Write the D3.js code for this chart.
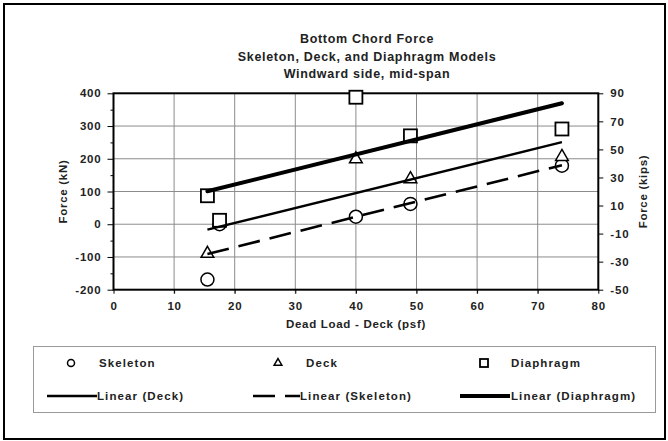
<!DOCTYPE html>
<html>
<head>
  <meta charset="utf-8">
  <title>Bottom Chord Force</title>
  <style>
    body { margin: 0; background: #fff; }
    text { font-family: "Liberation Sans", Arial, sans-serif; font-weight: bold; fill: #222; }
    .grid line { stroke: #8c8c8c; stroke-width: 1px; }
  </style>
</head>
<body>
  <svg id="chart"></svg>

  <script src="https://d3js.org/d3.v7.min.js"></script>
  <script>
    // chart values
    var titleLines = ["Bottom Chord Force", "Skeleton, Deck, and Diaphragm Models", "Windward side, mid-span"];
    var xTicks = [0, 10, 20, 30, 40, 50, 60, 70, 80];
    var yTicks = [-200, -100, 0, 100, 200, 300, 400];
    var yMinorTicks = [-150, -50, 50, 150, 250, 350];
    var yRightTicks = [-50, -30, -10, 10, 30, 50, 70, 90];

    // dead load (psf) / force (kN)
    var skeletonX = [15.5, 17.5, 40, 49, 74];
    var skeletonY = [-169, 0, 23, 62, 179];
    var deckX = [15.5, 17.5, 40, 49, 74];
    var deckY = [-90, 5, 199, 138, 206];
    var diaphragmX = [15.5, 17.5, 40, 49, 74];
    var diaphragmY = [87, 12, 388, 270, 291];

    var width = 668;
    var height = 441;

    var svg = d3.select("#chart")
      .attr("width", width)
      .attr("height", height);

    // outer frame
    svg.append("rect")
      .attr("x", 4).attr("y", 4)
      .attr("width", 661).attr("height", 435)
      .attr("fill", "#fff")
      .attr("stroke", "#000")
      .attr("stroke-width", 2);

    var x = d3.scaleLinear().domain([0, 80]).range([113.5, 598.3]);
    var y = d3.scaleLinear().domain([-200, 400]).range([289.7, 93.3]);
    var yR = d3.scaleLinear().domain([-50, 90]).range([289.7, 93.3]);

    // title
    svg.append("g").selectAll("text")
      .data(titleLines)
      .enter().append("text")
      .attr("x", 367)
      .attr("y", function(d, i) { return 43 + i * 17.5; })
      .attr("text-anchor", "middle")
      .style("font-size", "12.5px")
      .style("letter-spacing", "0.7px")
      .text(function(d) { return d; });

    // gridlines
    var grid = svg.append("g").attr("class", "grid");
    grid.selectAll(".vx")
      .data(xTicks.slice(1, -1))
      .enter().append("line")
      .attr("x1", function(d) { return x(d); })
      .attr("x2", function(d) { return x(d); })
      .attr("y1", y(400)).attr("y2", y(-200) + 4);
    grid.selectAll(".hy")
      .data(yTicks.slice(1, -1))
      .enter().append("line")
      .attr("x1", x(0)).attr("x2", x(80))
      .attr("y1", function(d) { return y(d); })
      .attr("y2", function(d) { return y(d); });

    // axes (plain hyphen minus, like the original)
    var plain = function(d) { return String(d); };
    svg.append("g")
      .attr("transform", "translate(0," + y(-200) + ")")
      .call(d3.axisBottom(x).tickValues(xTicks).tickSize(4).tickPadding(8).tickFormat(plain));
    svg.append("g")
      .attr("transform", "translate(" + x(0) + ",0)")
      .call(d3.axisLeft(y).tickValues(yTicks).tickSize(6).tickPadding(6).tickFormat(plain));
    svg.append("g")
      .attr("transform", "translate(" + x(0) + ",0)")
      .call(d3.axisLeft(y).tickValues(yMinorTicks).tickSize(3).tickFormat(""));
    svg.append("g")
      .attr("transform", "translate(" + x(80) + ",0)")
      .call(d3.axisRight(yR).tickValues(yRightTicks).tickSize(5).tickPadding(7).tickFormat(plain));

    svg.selectAll(".domain").remove();
    svg.selectAll(".tick line").attr("stroke", "#000").attr("stroke-width", 1);
    svg.selectAll(".tick text")
      .style("font-size", "11.5px")
      .style("letter-spacing", "0.8px")
      .attr("fill", "#222");

    // plot border
    svg.append("rect")
      .attr("x", x(0)).attr("y", y(400))
      .attr("width", x(80) - x(0)).attr("height", y(-200) - y(400))
      .attr("fill", "none")
      .attr("stroke", "#000")
      .attr("stroke-width", 2);

    // axis titles
    svg.append("text")
      .attr("x", 356).attr("y", 328)
      .attr("text-anchor", "middle")
      .style("font-size", "11.5px")
      .style("letter-spacing", "0.7px")
      .text("Dead Load - Deck (psf)");
    svg.append("text")
      .attr("transform", "translate(67," + ((y(400) + y(-200)) / 2) + ") rotate(-90)")
      .attr("text-anchor", "middle")
      .style("font-size", "11.5px")
      .style("letter-spacing", "0.7px")
      .text("Force (kN)");
    svg.append("text")
      .attr("transform", "translate(647," + ((y(400) + y(-200)) / 2) + ") rotate(-90)")
      .attr("text-anchor", "middle")
      .style("font-size", "11.5px")
      .style("letter-spacing", "0.7px")
      .text("Force (kips)");

    // markers
    function zip(xs, ys) {
      return xs.map(function(v, i) { return [v, ys[i]]; });
    }
    var plot = svg.append("g");
    plot.selectAll(".skel")
      .data(zip(skeletonX, skeletonY))
      .enter().append("circle")
      .attr("cx", function(d) { return x(d[0]); })
      .attr("cy", function(d) { return y(d[1]); })
      .attr("r", 6.5)
      .attr("fill", "#fff").attr("stroke", "#000").attr("stroke-width", 1.5);
    plot.selectAll(".deck")
      .data(zip(deckX, deckY))
      .enter().append("path")
      .attr("d", d3.symbol(d3.symbolTriangle, 70))
      .attr("transform", function(d) { return "translate(" + x(d[0]) + "," + y(d[1]) + ")"; })
      .attr("fill", "#fff").attr("stroke", "#000").attr("stroke-width", 1.5);
    plot.selectAll(".dia")
      .data(zip(diaphragmX, diaphragmY))
      .enter().append("rect")
      .attr("x", function(d) { return x(d[0]) - 6.5; })
      .attr("y", function(d) { return y(d[1]) - 6.5; })
      .attr("width", 13).attr("height", 13)
      .attr("fill", "#fff").attr("stroke", "#000").attr("stroke-width", 1.8);

    // least-squares trend lines
    function trend(xs, ys) {
      var mx = d3.mean(xs), my = d3.mean(ys);
      var sxy = d3.sum(xs, function(v, i) { return (v - mx) * (ys[i] - my); });
      var sxx = d3.sum(xs, function(v) { return (v - mx) * (v - mx); });
      var b = sxy / sxx, a = my - b * mx;
      var x0 = d3.min(xs), x1 = d3.max(xs);
      return [[x0, a + b * x0], [x1, a + b * x1]];
    }
    var line = d3.line()
      .x(function(d) { return x(d[0]); })
      .y(function(d) { return y(d[1]); });

    plot.append("path").datum(trend(deckX, deckY))
      .attr("d", line).attr("fill", "none")
      .attr("stroke", "#000").attr("stroke-width", 2.3);
    plot.append("path").datum(trend(skeletonX, skeletonY))
      .attr("d", line).attr("fill", "none")
      .attr("stroke", "#000").attr("stroke-width", 2.6)
      .attr("stroke-dasharray", "22,10");
    plot.append("path").datum(trend(diaphragmX, diaphragmY))
      .attr("d", line).attr("fill", "none")
      .attr("stroke", "#000").attr("stroke-width", 4)
      .attr("stroke-linecap", "round");

    // legend
    var legend = svg.append("g");
    legend.append("rect")
      .attr("x", 33.5).attr("y", 346.5)
      .attr("width", 622).attr("height", 66)
      .attr("fill", "#fff")
      .attr("stroke", "#999").attr("stroke-width", 1);

    var row1 = 363, row2 = 396;
    legend.append("circle")
      .attr("cx", 71).attr("cy", row1).attr("r", 3.5)
      .attr("fill", "#fff").attr("stroke", "#000").attr("stroke-width", 1.5);
    legend.append("path")
      .attr("d", d3.symbol(d3.symbolTriangle, 26))
      .attr("transform", "translate(278," + row1 + ")")
      .attr("fill", "#fff").attr("stroke", "#000").attr("stroke-width", 1.5);
    legend.append("rect")
      .attr("x", 480).attr("y", row1 - 4)
      .attr("width", 8).attr("height", 8)
      .attr("fill", "#fff").attr("stroke", "#000").attr("stroke-width", 1.8);

    legend.append("line")
      .attr("x1", 47).attr("x2", 97).attr("y1", row2).attr("y2", row2)
      .attr("stroke", "#000").attr("stroke-width", 2.5);
    legend.append("line")
      .attr("x1", 253).attr("x2", 300).attr("y1", row2).attr("y2", row2)
      .attr("stroke", "#000").attr("stroke-width", 2.5)
      .attr("stroke-dasharray", "22,10");
    legend.append("line")
      .attr("x1", 460).attr("x2", 510).attr("y1", row2).attr("y2", row2)
      .attr("stroke", "#000").attr("stroke-width", 4);

    var legendTexts = [
      [99, row1, "Skeleton"], [306, row1, "Deck"], [511, row1, "Diaphragm"],
      [97, row2, "Linear (Deck)"], [300, row2, "Linear (Skeleton)"], [511, row2, "Linear (Diaphragm)"]
    ];
    legend.selectAll(".lt")
      .data(legendTexts)
      .enter().append("text")
      .attr("x", function(d) { return d[0]; })
      .attr("y", function(d) { return d[1] + 4; })
      .style("font-size", "11.5px")
      .style("letter-spacing", "1.1px")
      .text(function(d) { return d[2]; });
  </script>
</body>
</html>
